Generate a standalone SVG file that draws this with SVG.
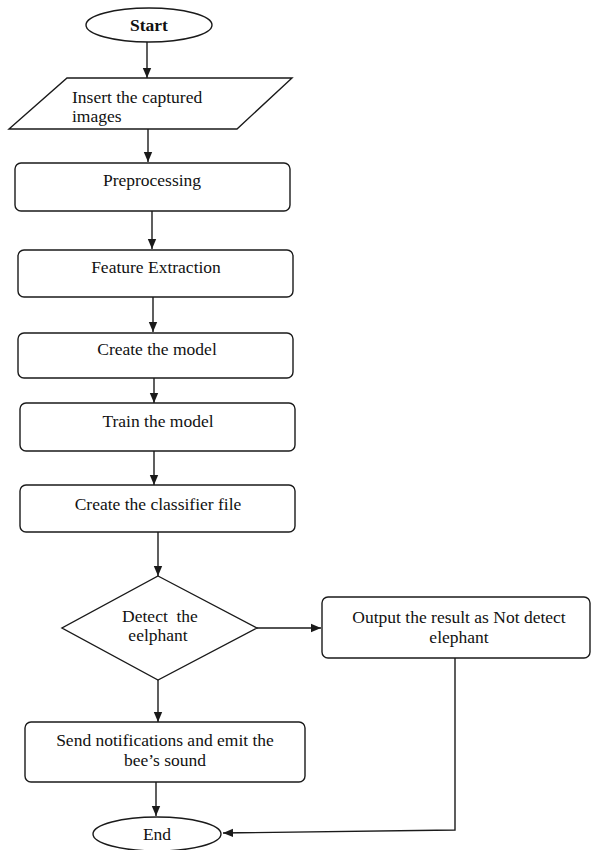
<svg xmlns="http://www.w3.org/2000/svg" width="592" height="850" viewBox="0 0 592 850">
<style>
.s{fill:#fff;stroke:#1a1a1a;stroke-width:1.4}
.t{font-family:"Liberation Serif","Times New Roman",serif;font-size:17.5px;fill:#111;text-anchor:middle}
.c{fill:none;stroke:#1a1a1a;stroke-width:1.4}
</style>
<defs>
<marker id="ah" markerUnits="userSpaceOnUse" markerWidth="10" markerHeight="10" refX="10" refY="5" orient="auto">
<path d="M0,0.8 L10,5 L0,9.2 Z" fill="#1a1a1a"/>
</marker>
</defs>
<rect width="592" height="850" fill="#fff"/>
<g id="start">
<ellipse class="s" cx="149" cy="25" rx="63" ry="17"/>
<text class="t" x="149" y="31" font-weight="bold" font-size="16">Start</text>
</g>
<g id="insert">
<polygon class="s" points="67,78 292,78 237,129 9,129"/>
<text class="t" x="72" y="103" text-anchor="start" style="text-anchor:start">Insert the captured</text>
<text class="t" x="72" y="122" style="text-anchor:start">images</text>
</g>
<g id="preprocessing">
<rect class="s" x="15" y="163" width="275" height="48" rx="6"/>
<text class="t" x="152" y="186">Preprocessing</text>
</g>
<g id="feature">
<rect class="s" x="18" y="250" width="275" height="47" rx="6"/>
<text class="t" x="156" y="273">Feature Extraction</text>
</g>
<g id="create-model">
<rect class="s" x="18" y="333" width="275" height="45" rx="6"/>
<text class="t" x="157" y="355">Create the model</text>
</g>
<g id="train">
<rect class="s" x="20" y="403" width="275" height="48" rx="6"/>
<text class="t" x="158" y="427">Train the model</text>
</g>
<g id="classifier">
<rect class="s" x="20" y="485" width="275" height="47" rx="6"/>
<text class="t" x="158" y="510">Create the classifier file</text>
</g>
<g id="detect">
<polygon class="s" points="158,576 257,628 158,680 62,628"/>
<text class="t" x="160" y="622" xml:space="preserve">Detect  the</text>
<text class="t" x="158" y="641">eelphant</text>
</g>
<g id="output">
<rect class="s" x="322" y="597" width="268" height="61" rx="6"/>
<text class="t" x="459" y="623">Output the result as Not detect</text>
<text class="t" x="459" y="643">elephant</text>
</g>
<g id="send">
<rect class="s" x="25" y="722" width="280" height="60" rx="6"/>
<text class="t" x="165" y="746">Send notifications and emit the</text>
<text class="t" x="165" y="766">bee’s sound</text>
</g>
<g id="end">
<ellipse class="s" cx="157" cy="834" rx="64" ry="17"/>
<text class="t" x="157" y="840">End</text>
</g>
<g id="connectors">
<line class="c" x1="147" y1="42" x2="147" y2="78" marker-end="url(#ah)"/>
<line class="c" x1="148" y1="129" x2="148" y2="162" marker-end="url(#ah)"/>
<line class="c" x1="152" y1="211" x2="152" y2="249" marker-end="url(#ah)"/>
<line class="c" x1="153" y1="297" x2="153" y2="332" marker-end="url(#ah)"/>
<line class="c" x1="154" y1="378" x2="154" y2="403" marker-end="url(#ah)"/>
<line class="c" x1="154" y1="451" x2="154" y2="485" marker-end="url(#ah)"/>
<line class="c" x1="158" y1="532" x2="158" y2="576" marker-end="url(#ah)"/>
<line class="c" x1="257" y1="628" x2="321" y2="628" marker-end="url(#ah)"/>
<line class="c" x1="158" y1="680" x2="158" y2="722" marker-end="url(#ah)"/>
<line class="c" x1="156" y1="782" x2="156" y2="816" marker-end="url(#ah)"/>
<polyline class="c" points="455,658 455,830 223,833" marker-end="url(#ah)"/>
</g>
</svg>
